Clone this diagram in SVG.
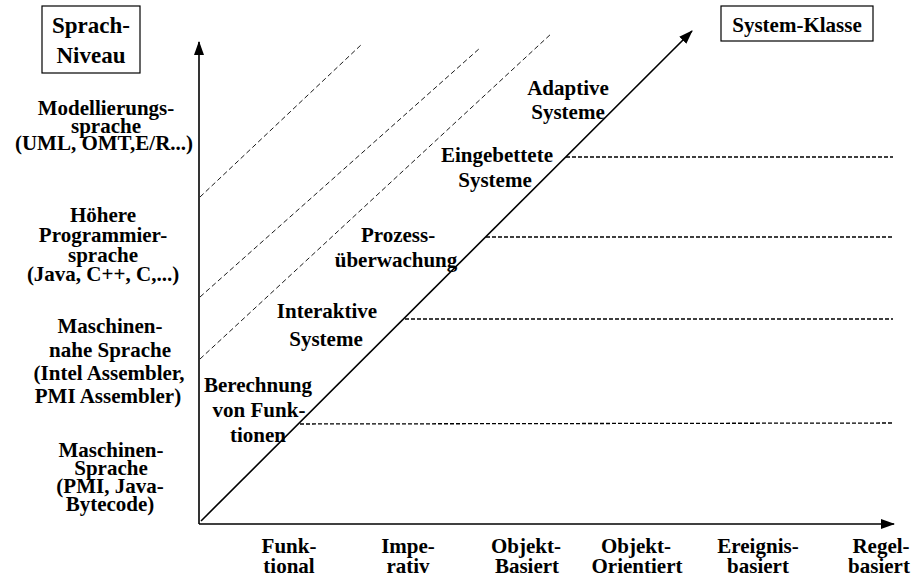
<svg xmlns="http://www.w3.org/2000/svg" width="917" height="577" viewBox="0 0 917 577">
<style>
.t{font-family:"Liberation Serif","Times New Roman",serif;font-weight:bold;font-size:21px;text-anchor:middle;fill:#000}
.h{font-size:23px}
.box{fill:#fff;stroke:#000;stroke-width:1.2}
.ax{stroke:#000;stroke-width:1.6;fill:none}
.dh{stroke:#000;stroke-width:1.3;stroke-dasharray:4 2;fill:none}
.dd{stroke:#000;stroke-width:0.9;stroke-dasharray:5 3;fill:none}
</style>
<defs>
<marker id="arr" markerUnits="userSpaceOnUse" markerWidth="14" markerHeight="10" refX="13" refY="5" orient="auto">
<path d="M0,0 L14,5 L0,10 Z" fill="#000"/>
</marker>
</defs>
<rect width="917" height="577" fill="#fff"/>
<g id="connectors">
<line class="ax" x1="199" y1="524" x2="199" y2="42" marker-end="url(#arr)"/>
<line class="ax" x1="199" y1="524" x2="894" y2="524" marker-end="url(#arr)"/>
<line class="ax" x1="201" y1="521" x2="692" y2="31" marker-end="url(#arr)"/>
<line class="dd" x1="200" y1="197" x2="362" y2="44"/>
<line class="dd" x1="200" y1="297" x2="480" y2="48"/>
<line class="dd" x1="200" y1="359" x2="552" y2="33"/>
<line class="dh" x1="566" y1="157" x2="893" y2="157"/>
<line class="dh" x1="486" y1="237" x2="893" y2="237"/>
<line class="dh" x1="405" y1="319" x2="893" y2="319"/>
<line class="dh" x1="300" y1="424" x2="893" y2="423"/>
</g>
<g id="sprach-niveau">
<rect class="box" x="42" y="6" width="98" height="67"/>
<text class="t h" x="91" y="33">Sprach-</text>
<text class="t h" x="91" y="63">Niveau</text>
</g>
<g id="system-klasse">
<rect class="box" x="721" y="6" width="152" height="35"/>
<text class="t" x="797" y="32">System-Klasse</text>
</g>
<g id="modellierungssprache">
<text class="t" x="106" y="115">Modellierungs-</text>
<text class="t" x="106" y="133">sprache</text>
<text class="t" x="104" y="150">(UML, OMT,E/R...)</text>
</g>
<g id="hoehere-programmiersprache">
<text class="t" x="103" y="222">Höhere</text>
<text class="t" x="103" y="242">Programmier-</text>
<text class="t" x="103" y="262">sprache</text>
<text class="t" x="103" y="281">(Java, C++, C,...)</text>
</g>
<g id="maschinennahe-sprache">
<text class="t" x="110" y="333">Maschinen-</text>
<text class="t" x="110" y="357">nahe Sprache</text>
<text class="t" x="109" y="380">(Intel Assembler,</text>
<text class="t" x="108" y="403">PMI Assembler)</text>
</g>
<g id="maschinensprache">
<text class="t" x="111" y="457">Maschinen-</text>
<text class="t" x="111" y="475">Sprache</text>
<text class="t" x="110" y="493">(PMI, Java-</text>
<text class="t" x="110" y="511">Bytecode)</text>
</g>
<g id="berechnung-von-funktionen">
<text class="t" x="258" y="392">Berechnung</text>
<text class="t" x="259" y="417">von Funk-</text>
<text class="t" x="258" y="442">tionen</text>
</g>
<g id="interaktive-systeme">
<text class="t" x="327" y="318">Interaktive</text>
<text class="t" x="326" y="346">Systeme</text>
</g>
<g id="prozessueberwachung">
<text class="t" x="398" y="242">Prozess-</text>
<text class="t" x="396" y="267">überwachung</text>
</g>
<g id="eingebettete-systeme">
<text class="t" x="497" y="162">Eingebettete</text>
<text class="t" x="495" y="187">Systeme</text>
</g>
<g id="adaptive-systeme">
<text class="t" x="568" y="95">Adaptive</text>
<text class="t" x="568" y="119">Systeme</text>
</g>
<g id="funktional">
<text class="t" x="289" y="553">Funk-</text>
<text class="t" x="289" y="573">tional</text>
</g>
<g id="imperativ">
<text class="t" x="408" y="553">Impe-</text>
<text class="t" x="408" y="573">rativ</text>
</g>
<g id="objekt-basiert">
<text class="t" x="526" y="553">Objekt-</text>
<text class="t" x="527" y="573">Basiert</text>
</g>
<g id="objekt-orientiert">
<text class="t" x="636" y="553">Objekt-</text>
<text class="t" x="637" y="573">Orientiert</text>
</g>
<g id="ereignisbasiert">
<text class="t" x="758" y="553">Ereignis-</text>
<text class="t" x="758" y="573">basiert</text>
</g>
<g id="regelbasiert">
<text class="t" x="881" y="553">Regel-</text>
<text class="t" x="879" y="573">basiert</text>
</g>
</svg>
